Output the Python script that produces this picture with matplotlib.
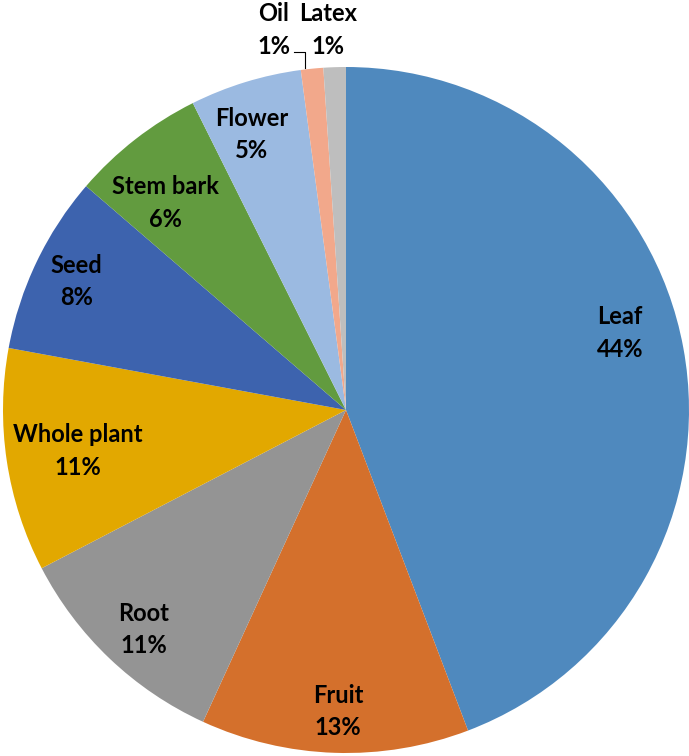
import matplotlib
matplotlib.use('Agg')
import matplotlib.pyplot as plt
import numpy as np

# source part of plant, counts of studies
parts = ['Leaf', 'Fruit', 'Root', 'Whole plant', 'Seed', 'Stem bark', 'Flower', 'Oil', 'Latex']
counts = [42, 12, 10, 10, 8, 6, 5, 1, 1]
colors = ['#4F89BE', '#D4702C', '#949494', '#E2A800', '#3D63AE',
          '#629B3F', '#9BBAE1', '#F2A88B', '#BEBEBE']
# label placement: fraction of radius and angle nudge (deg)
label_r = [0.83, 0.88, 0.87, 0.79, 0.87, 0.80, 0.85, None, None]
label_shift = [5.3, 0.4, 0.9, 0.2, 0.1, 3.2, 1.9, 0, 0]

plt.rcParams['font.family'] = ['Lato', 'DejaVu Sans']
FS = 17
LS = 1.5

fig = plt.figure(figsize=(6.89, 7.56), dpi=100)
ax = fig.add_axes([3 / 689, 3 / 756, 686 / 689, 686 / 756])

wedges, _ = ax.pie(counts, colors=colors, startangle=90, counterclock=False,
                   radius=1.0, wedgeprops=dict(linewidth=0))
ax.set_xlim(-1, 1)
ax.set_ylim(-1, 1)
ax.set_aspect('equal')
ax.axis('off')

total = float(sum(counts))
for w, name, c, r, sh in zip(wedges, parts, counts, label_r, label_shift):
    if r is None:
        continue
    pct = '%d%%' % round(100 * c / total)
    mid = np.deg2rad((w.theta1 + w.theta2) / 2 + sh)
    ax.text(r * np.cos(mid), r * np.sin(mid), name + '\n' + pct,
            ha='center', va='center', fontsize=FS, fontweight='bold',
            linespacing=LS)

# the two small slices are labelled above the pie
for w, name, c, x in zip(wedges[7:], parts[7:], counts[7:], [-0.21, -0.052]):
    pct = '%d%%' % round(100 * c / total)
    ax.text(x, 1.108, name + '\n' + pct, ha='center', va='center',
            fontsize=FS, fontweight='bold', linespacing=LS, clip_on=False)

# leader line for Oil
ax.plot([-0.152, -0.12, -0.12], [1.044, 1.044, 0.996],
        color='black', linewidth=0.8, clip_on=False)

fig.savefig('out.png', dpi=100)
